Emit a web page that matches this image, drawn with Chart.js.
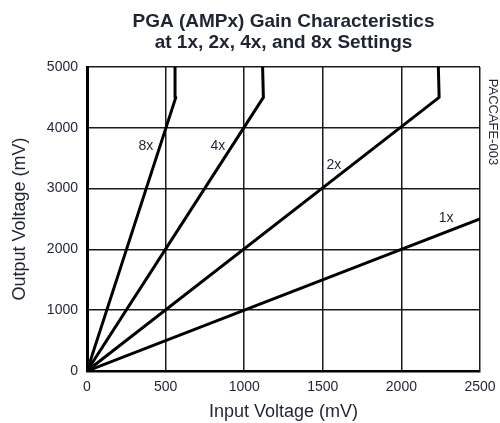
<!DOCTYPE html>
<html lang="en">
<head>
  <meta charset="UTF-8">
  <title>PGA (AMPx) Gain Characteristics</title>
  <script src="https://cdn.jsdelivr.net/npm/chart.js"></script>
  <style>
    html, body {
      margin: 0;
      padding: 0;
      background: #fff;
    }
    #wrap {
      width: 500px;
      height: 423px;
    }
  </style>
</head>
<body>

<div id="wrap">
  <canvas id="gainChart" aria-label="PGA gain characteristics at 1x, 2x, 4x and 8x" role="img"></canvas>
</div>

<script>
  // gain settings and the traces (mV)
  const gains = ['1x', '2x', '4x', '8x'];
  const input1x = [0, 2500];
  const output1x = [0, 2500];
  const input2x = [0, 2240, 2235];
  const output2x = [0, 4500, 5000];
  const input4x = [0, 1122, 1117];
  const output4x = [0, 4500, 5000];
  const input8x = [0, 565, 560];
  const output8x = [0, 4500, 5000];
  const xTicks = [0, 500, 1000, 1500, 2000, 2500];
  const yTicks = [0, 1000, 2000, 3000, 4000, 5000];

  const toPoints = (xs, ys) => xs.map((x, i) => ({ x: x, y: ys[i] }));
  const traces = [
    toPoints(input1x, output1x),
    toPoints(input2x, output2x),
    toPoints(input4x, output4x),
    toPoints(input8x, output8x)
  ];

  const font = 'Liberation Sans, Arial, Helvetica, sans-serif';
  const ink = '#1f2433';

  // labels next to each trace, in data units
  const labelSpots = { '1x': [2284, 2516], '2x': [1571, 3388], '4x': [833, 3700], '8x': [375, 3700] };

  const extras = {
    id: 'extras',
    afterDraw(chart) {
      const { ctx, chartArea, scales } = chart;
      ctx.save();
      ctx.fillStyle = ink;

      // title, centred on the plot
      ctx.font = 'bold 19px ' + font;
      ctx.textAlign = 'center';
      ctx.textBaseline = 'middle';
      const cx = (chartArea.left + chartArea.right) / 2;
      ctx.fillText('PGA (AMPx) Gain Characteristics', cx, 22);
      ctx.fillText('at 1x, 2x, 4x, and 8x Settings', cx, 43);

      // trace labels
      ctx.font = '14px ' + font;
      gains.forEach(g => {
        const [lx, ly] = labelSpots[g];
        ctx.fillText(g, scales.x.getPixelForValue(lx), scales.y.getPixelForValue(ly));
      });

      // figure code on the right edge
      ctx.translate(493, 122);
      ctx.rotate(Math.PI / 2);
      ctx.font = '13px ' + font;
      ctx.fillText('PACCAFE-003', 0, 0);
      ctx.restore();
    }
  };

  const ctx = document.getElementById('gainChart').getContext('2d');

  new Chart(ctx, {
    type: 'line',
    data: {
      datasets: traces.map((pts, i) => ({
        label: gains[i],
        data: pts,
        borderColor: '#000',
        borderWidth: 3,
        pointRadius: 0,
        tension: 0,
        borderJoinStyle: 'round',
        borderCapStyle: 'round'
      }))
    },
    options: {
      responsive: true,
      maintainAspectRatio: false,
      animation: false,
      layout: { padding: { top: 67, right: 20, bottom: 0, left: 0 } },
      plugins: {
        legend: { display: false },
        tooltip: { enabled: false }
      },
      scales: {
        x: {
          type: 'linear',
          min: 0,
          max: 2500,
          afterBuildTicks: s => { s.ticks = xTicks.map(v => ({ value: v })); },
          afterFit: s => {
            s.height = 52;
            s.paddingLeft = 0;
            s.paddingRight = 0;
          },
          grid: { color: '#1a1a1a', lineWidth: 1.5, drawTicks: false },
          border: { color: '#000', width: 2.5 },
          ticks: {
            color: ink,
            padding: 8,
            font: { family: font, size: 14 },
            maxRotation: 0,
            callback: v => String(v)
          },
          title: {
            display: true,
            text: 'Input Voltage (mV)',
            color: ink,
            font: { family: font, size: 18 },
            padding: { top: 0, bottom: 0 }
          }
        },
        y: {
          min: 0,
          max: 5000,
          afterBuildTicks: s => { s.ticks = yTicks.map(v => ({ value: v })); },
          afterFit: s => {
            s.width = 87;
            s.paddingTop = 0;
            s.paddingBottom = 0;
          },
          grid: { color: '#1a1a1a', lineWidth: 1.5, drawTicks: false },
          border: { color: '#000', width: 3 },
          ticks: {
            color: ink,
            padding: 9,
            font: { family: font, size: 14 },
            callback: v => String(v)
          },
          title: {
            display: true,
            text: 'Output Voltage (mV)',
            color: ink,
            font: { family: font, size: 18 },
            padding: { top: 9, bottom: 0 }
          }
        }
      }
    },
    plugins: [extras]
  });
</script>

</body>
</html>
